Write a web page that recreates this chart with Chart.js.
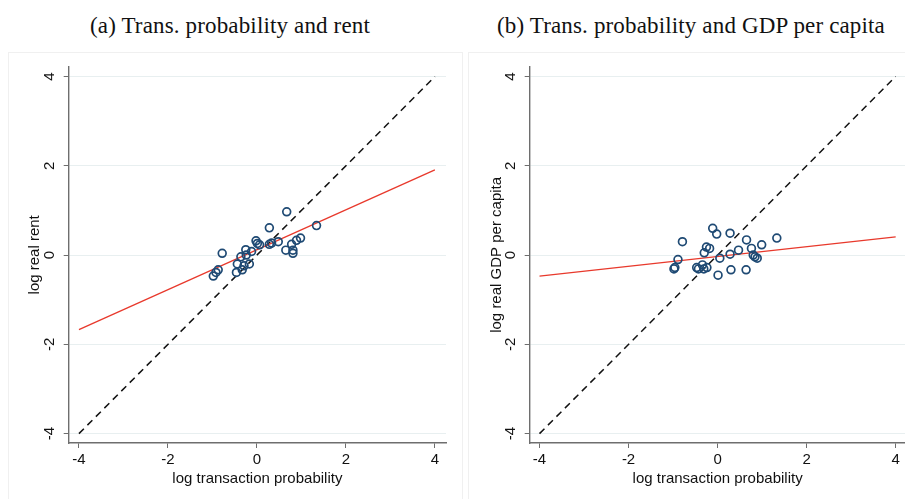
<!DOCTYPE html>
<html><head><meta charset="utf-8">
<script src="https://cdn.jsdelivr.net/npm/chart.js@4"></script>
<style>
html,body{margin:0;padding:0;background:#fff;overflow:hidden;width:905px;height:499px;position:relative;}
.panel{position:absolute;top:0;width:464px;height:499px;}
#p1{left:0;}
#p2{left:464px;}
.box{position:absolute;border:1px solid #f0f0f0;}
.title{position:absolute;top:13px;font-family:"Liberation Serif",serif;font-size:23px;line-height:26px;letter-spacing:0.15px;color:#111;white-space:nowrap;transform:translateX(-50%);}
</style>
</head><body>
<div class="box" style="left:8px;top:52px;width:453px;height:460px;"></div>
<div class="box" style="left:468px;top:52px;width:500px;height:460px;"></div>
<div class="title" style="left:230px;">(a) Trans. probability and rent</div>
<div class="title" style="left:691px;">(b) Trans. probability and GDP per capita</div>
<div class="panel" id="p1"><canvas id="c1" width="464" height="499"></canvas></div>
<div class="panel" id="p2"><canvas id="c2" width="464" height="499"></canvas></div>
<script>
// ---- data ----
const rentX = [0.67, 0.28, 1.34, -0.78, -0.02, 0.01, 0.06, 0.28, 0.33, 0.48, 0.89, 0.98, 0.78, 0.65, 0.81, 0.81, -0.25, -0.12, -0.36, -0.24, -0.44, -0.29, -0.17, -0.33, -0.46, -0.87, -0.92, -0.98];
const rentY = [0.97, 0.61, 0.66, 0.04, 0.32, 0.26, 0.23, 0.24, 0.27, 0.30, 0.33, 0.38, 0.24, 0.11, 0.11, 0.04, 0.12, 0.08, -0.04, 0.00, -0.20, -0.24, -0.20, -0.33, -0.39, -0.33, -0.39, -0.47];
const gdpX = [-0.11, -0.02, 0.28, -0.79, 1.33, 0.65, 0.99, -0.25, -0.18, 0.76, 0.47, -0.30, 0.28, 0.80, 0.84, 0.89, 0.05, -0.89, -0.96, -0.98, -0.47, -0.43, -0.34, -0.31, -0.24, 0.30, 0.64, 0.01];
const gdpY = [0.60, 0.47, 0.49, 0.30, 0.38, 0.34, 0.23, 0.18, 0.15, 0.15, 0.11, 0.05, 0.02, 0.00, -0.04, -0.07, -0.07, -0.10, -0.28, -0.31, -0.28, -0.31, -0.22, -0.31, -0.28, -0.33, -0.33, -0.45];
const fitX = [-4, 4];
const rentFitY = [-1.67, 1.91];
const gdpFitY = [-0.47, 0.41];
const diagX = [-4, 4];
const diagY = [-4, 4];
const tickValues = [-4, -2, 0, 2, 4];
const xTitle = 'log transaction probability';
const rentTitle = 'log real rent';
const gdpTitle = 'log real GDP per capita';

function pts(xs, ys) { return xs.map((x, i) => ({x: x, y: ys[i]})); }

function makeChart(id, xs, ys, fitY, yTitle, cfg) {
  const axisCol = '#6e6e6e';
  const font = {family: '"Liberation Sans", Arial, sans-serif', size: 15};
  return new Chart(document.getElementById(id), {
    type: 'scatter',
    data: {
      datasets: [
        {data: pts(xs, ys), pointRadius: 3.9, pointBorderWidth: 1.7, pointBorderColor: '#1f4a74', pointBackgroundColor: 'rgba(0,0,0,0)', showLine: false, order: 1},
        {type: 'line', data: pts(fitX, fitY), borderColor: '#e8392c', borderWidth: 1.3, pointRadius: 0, showLine: true, fill: false, order: 2},
        {type: 'line', data: pts(diagX, diagY), borderColor: '#111', borderWidth: 1.5, borderDash: [7, 5], pointRadius: 0, showLine: true, fill: false, order: 3}
      ]
    },
    options: {
      responsive: false, animation: false, devicePixelRatio: 1,
      layout: {padding: {top: 66.7, right: cfg.padRight, bottom: 0, left: 0}},
      plugins: {legend: {display: false}, tooltip: {enabled: false}},
      scales: {
        x: {
          type: 'linear', min: cfg.xMin, max: cfg.xMax,
          afterBuildTicks: s => { s.ticks = tickValues.map(v => ({value: v})); },
          afterFit: s => { s.height = 56; },
          grid: {drawOnChartArea: false, drawTicks: true, tickLength: 5, tickColor: axisCol, tickWidth: 1},
          border: {display: true, color: axisCol, width: 1.4},
          ticks: {font: font, color: '#111', padding: 3, maxRotation: 0, callback: v => String(v)},
          title: {display: true, text: xTitle, font: font, color: '#111', padding: {top: 0, bottom: 11}}
        },
        y: {
          type: 'linear', min: -4.21, max: 4.22,
          afterBuildTicks: s => { s.ticks = tickValues.map(v => ({value: v})); },
          afterFit: s => { s.width = cfg.yWidth; },
          grid: {color: '#e8eff0', lineWidth: 1, drawTicks: true, tickLength: 5, tickColor: axisCol, tickWidth: 1},
          border: {display: true, color: axisCol, width: 1.4},
          ticks: {font: font, color: '#111', padding: 7, minRotation: 90, maxRotation: 90, crossAlign: 'center', callback: v => String(v)},
          title: {display: true, text: yTitle, font: font, color: '#111', padding: {top: cfg.yTitlePad, bottom: 0}}
        }
      }
    }
  });
}

makeChart('c1', rentX, rentY, rentFitY, rentTitle, {padRight: 18, yWidth: 68.7, yTitlePad: 26, xMin: -4.23, xMax: 4.25});
makeChart('c2', gdpX, gdpY, gdpFitY, gdpTitle, {padRight: 22.5, yWidth: 65.7, yTitlePad: 24, xMin: -4.22, xMax: 4.22});
</script>
</body></html>
